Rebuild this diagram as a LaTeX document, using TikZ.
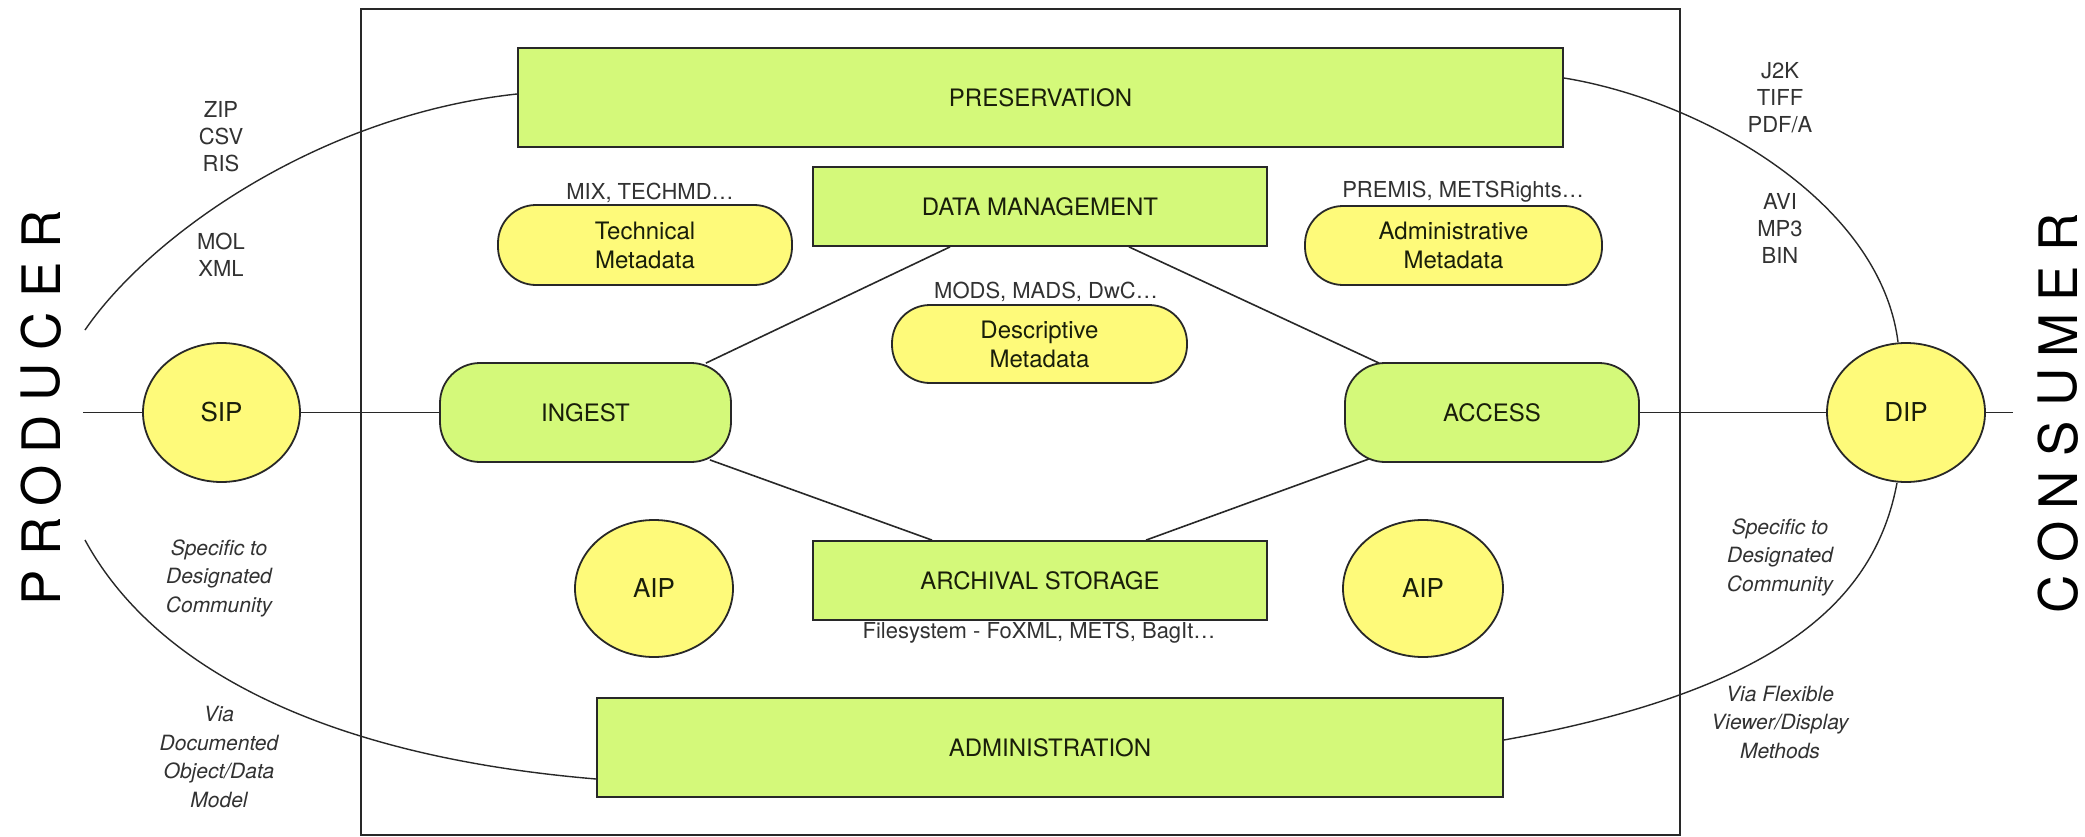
\documentclass[tikz,border=0pt]{standalone}
\usepackage{fontspec}
\setmainfont{TeX Gyre Heros}
\usetikzlibrary{shapes.geometric,backgrounds}
\definecolor{grn}{RGB}{212,249,122}
\definecolor{ylw}{RGB}{254,250,122}
\definecolor{edge}{RGB}{40,40,40}
\definecolor{txt}{RGB}{25,30,10}
\definecolor{lbl}{RGB}{50,50,50}
\begin{document}
\begin{tikzpicture}[x=1pt,y=-1pt,
  base/.style={draw=edge, line width=1.8pt, text=txt, inner sep=0pt, align=center, font=\fontsize{24}{29}\selectfont},
  gbox/.style={base, rectangle, fill=grn},
  gpill/.style={base, rectangle, rounded corners=40pt, fill=grn},
  ypill/.style={base, rectangle, rounded corners=38pt, fill=ylw},
  yell/.style={base, ellipse, fill=ylw, font=\fontsize{26}{30}\selectfont},
  note/.style={text=lbl, inner sep=0pt, align=center, font=\fontsize{22}{27}\selectfont},
  inote/.style={text=lbl, inner sep=0pt, align=center, font=\fontsize{21}{28.5}\selectfont\itshape},
  conn/.style={draw=edge, line width=1.6pt},
  big/.style={rotate=90, inner sep=0pt, text=black, font=\fontsize{53}{53}\selectfont},
]
\useasboundingbox (0,0) rectangle (2085,837);
\begin{pgfonlayer}{background}
  \fill[white] (0,0) rectangle (2085,837);
\end{pgfonlayer}

% main boxes
\node[gbox, minimum width=1045pt, minimum height=99pt] (pres) at (1040.5,97.5) {PRESERVATION};
\node[gbox, minimum width=454pt, minimum height=79pt] (dm) at (1040,206.5) {DATA MANAGEMENT};
\node[gbox, minimum width=454pt, minimum height=79pt] (arch) at (1040,580.5) {ARCHIVAL STORAGE};
\node[gbox, minimum width=906pt, minimum height=99pt] (admin) at (1050,747.5) {ADMINISTRATION};
\node[gpill, minimum width=291pt, minimum height=99pt] (ingest) at (585.5,412.5) {INGEST};
\node[gpill, minimum width=294pt, minimum height=99pt] (access) at (1492,412.5) {ACCESS};
\node[ypill, minimum width=294pt, minimum height=80pt] (tech) at (645,245) {Technical\\Metadata};
\node[ypill, minimum width=295pt, minimum height=78pt] (desc) at (1039.5,344) {Descriptive\\Metadata};
\node[ypill, minimum width=297pt, minimum height=79pt] (admmeta) at (1453.5,245.5) {Administrative\\Metadata};
\node[yell, minimum width=157pt, minimum height=139pt] (sip) at (221.5,412.5) {SIP};
\node[yell, minimum width=158pt, minimum height=139pt] (dip) at (1906,412.5) {DIP};
\node[yell, minimum width=158pt, minimum height=137pt] (aipl) at (654,588.5) {AIP};
\node[yell, minimum width=160pt, minimum height=137pt] (aipr) at (1423,588.5) {AIP};

% format labels
\node[note] (techfmt) at (650,193) {MIX, TECHMD\ldots};
\node[note] (descfmt) at (1046,292) {MODS, MADS, DwC\ldots};
\node[note] (admfmt) at (1463,192) {PREMIS, METSRights\ldots};
\node[note] (archfmt) at (1039,633) {Filesystem - FoXML, METS, BagIt\ldots};
\node[note] (infmta) at (221,137) {ZIP\\CSV\\RIS};
\node[note] (infmtb) at (221,255) {MOL\\XML};
\node[note] (outfmta) at (1780,98) {J2K\\TIFF\\PDF/A};
\node[note] (outfmtb) at (1780,228) {AVI\\MP3\\BIN};
\node[inote] (inspec) at (219,578) {Specific to\\Designated\\Community};
\node[inote] (invia) at (219,757) {Via\\Documented\\Object/Data\\Model};
\node[inote] (outspec) at (1780,557) {Specific to\\Designated\\Community};
\node[inote] (outvia) at (1780,722) {Via Flexible\\Viewer/Display\\Methods};

% side titles
\foreach \l [count=\i] in {P,R,O,D,U,C,E,R}
  \node[big] (prod\i) at (41,{588-51.3*(\i-1)}) {\l};
\foreach \l [count=\i] in {C,O,N,S,U,M,E,R}
  \node[big] (cons\i) at (2058,{594-51.7*(\i-1)}) {\l};

\coordinate (prodend) at (83,412.5);
\coordinate (consend) at (2013,412.5);
\coordinate (produp) at (85,330);
\coordinate (proddown) at (85,540);

\begin{pgfonlayer}{background}
  \draw[line width=1.8pt, draw=edge] (361,9) rectangle (1680,835);
  \draw[conn] (prodend) -- (sip);
  \draw[conn] (sip) -- (ingest);
  \draw[conn] (access) -- (dip);
  \draw[conn] (dip) -- (consend);
  \draw[conn] ([xshift=-90pt]dm.south) -- ([xshift=-26pt,yshift=-1pt]ingest.north east);
  \draw[conn] ([xshift=89pt]dm.south) -- ([xshift=35pt,yshift=-1pt]access.north west);
  \draw[conn] ([xshift=-22pt,yshift=3pt]ingest.south east) -- ([xshift=-108pt]arch.north);
  \draw[conn] ([xshift=25pt,yshift=4pt]access.south west) -- ([xshift=106pt]arch.north);
  \draw[conn, line width=1.4pt] (produp) .. controls (150,235) and (320,115) .. ([yshift=3.5pt]pres.west);
  \draw[conn, line width=1.4pt] (proddown) .. controls (150,660) and (310,755) .. ([yshift=-31.5pt]admin.west);
  \draw[conn, line width=1.4pt] ([yshift=19.5pt]pres.east) .. controls (1700,100) and (1880,200) .. ([xshift=-8pt]dip.north);
  \draw[conn, line width=1.4pt] ([xshift=-9pt]dip.south) .. controls (1875,600) and (1780,690) .. ([yshift=7.5pt]admin.east);
\end{pgfonlayer}
\end{tikzpicture}
\end{document}
